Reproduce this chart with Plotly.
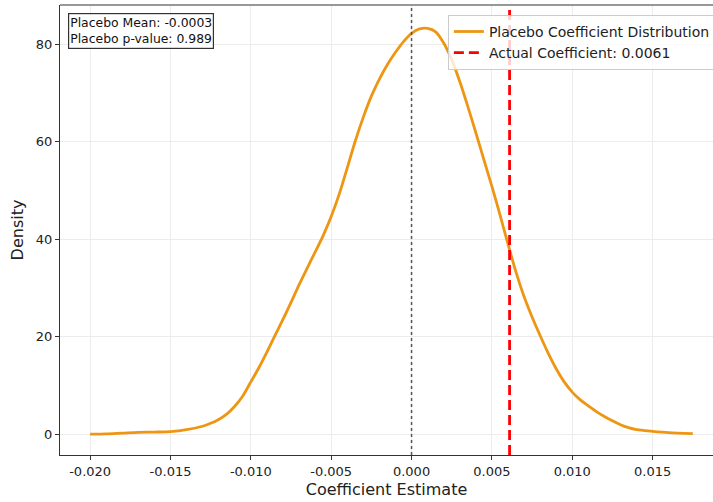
import plotly.graph_objects as go

coef_x = [-0.0200, -0.0190, -0.0180, -0.0170, -0.0160, -0.0150, -0.0140, -0.0130, -0.0125,
          -0.0120, -0.0115, -0.0110, -0.0105, -0.0100, -0.0095, -0.0090, -0.0085, -0.0080,
          -0.0075, -0.0070, -0.0065, -0.0060, -0.0055, -0.0050, -0.0045, -0.0040, -0.0035,
          -0.0030, -0.0025, -0.0020, -0.0015, -0.0010, -0.0005, 0.0000, 0.0005, 0.0010,
          0.0015, 0.0020, 0.0025, 0.0030, 0.0035, 0.0040, 0.0045, 0.0050, 0.0055,
          0.0060, 0.0065, 0.0070, 0.0075, 0.0080, 0.0085, 0.0090, 0.0095, 0.0100,
          0.0105, 0.0110, 0.0115, 0.0120, 0.0125, 0.0130, 0.0135, 0.0140, 0.0145,
          0.0150, 0.0160, 0.0175]
density = [0.0, 0.05, 0.2, 0.35, 0.4, 0.5, 0.9, 1.6, 2.2,
           3.0, 4.1, 5.7, 7.8, 10.7, 13.6, 16.8, 20.2, 23.5,
           27.0, 30.6, 34.0, 37.3, 40.7, 44.6, 49.2, 54.6, 60.1,
           65.0, 69.3, 72.8, 75.8, 78.3, 80.5, 82.2, 83.1, 83.2,
           82.5, 80.2, 76.8, 72.3, 67.2, 61.8, 56.3, 50.8, 45.0,
           39.0, 33.2, 28.2, 24.0, 20.2, 16.6, 13.4, 10.7, 8.6,
           7.0, 5.8, 4.6, 3.6, 2.7, 1.9, 1.3, 0.9, 0.7,
           0.55, 0.3, 0.1]
actual_coef = 0.0061
placebo_mean = -0.0003
placebo_p = 0.989
x_ticks = [-0.020, -0.015, -0.010, -0.005, 0.000, 0.005, 0.010, 0.015]
x_tick_labels = ["-0.020", "-0.015", "-0.010", "-0.005", "0.000", "0.005", "0.010", "0.015"]
y_ticks = [0, 20, 40, 60, 80]

fig = go.Figure()
fig.add_trace(go.Scatter(x=coef_x, y=density, mode="lines",
                         line=dict(color="#EE9614", width=2.8, shape="spline", smoothing=0.8),
                         name="Placebo Coefficient Distribution"))
fig.add_trace(go.Scatter(x=[actual_coef, actual_coef], y=[-4.3, 88.0], mode="lines",
                         line=dict(color="#FF0000", width=2.8, dash="10px,5px"),
                         name=f"Actual Coefficient: {actual_coef:.4f}"))
fig.add_shape(type="line", x0=0, x1=0, y0=0, y1=1, xref="x", yref="paper",
              line=dict(color="#555555", width=1.5, dash="dot"))
# top spine
fig.add_shape(type="line", x0=0, x1=1, y0=1, y1=1, xref="paper", yref="paper",
              line=dict(color="#333", width=1.2))

fig.add_annotation(xref="paper", yref="paper", x=0.012, y=0.983, xanchor="left", yanchor="top",
                   text=f"Placebo Mean: {placebo_mean:.4f}<br>Placebo p-value: {placebo_p:.3f}",
                   showarrow=False, align="left", font=dict(family="DejaVu Sans", size=12.4, color="#111"),
                   bgcolor="rgba(255,255,255,0.9)", bordercolor="#333", borderwidth=1.2, borderpad=1)

fig.update_layout(
    width=713, height=502,
    margin=dict(l=60, r=0, t=5, b=47, autoexpand=False),
    plot_bgcolor="white", paper_bgcolor="white",
    font=dict(family="DejaVu Sans", size=13, color="#222"),
    showlegend=True,
    legend=dict(x=0.594, y=0.978, xanchor="left", yanchor="top",
                bgcolor="rgba(255,255,255,0.8)", bordercolor="#cccccc", borderwidth=1,
                font=dict(family="DejaVu Sans", size=14, color="#222"), itemwidth=30,
                tracegroupgap=2),
    xaxis=dict(range=[-0.021875, 0.018758], tickvals=x_ticks, ticktext=x_tick_labels,
               showgrid=True, gridcolor="#ececec", gridwidth=1, zeroline=False,
               showline=True, linecolor="#333", linewidth=1.2, mirror=False,
               ticks="outside", ticklen=4, tickcolor="#333",
               title=dict(text="Coefficient Estimate", standoff=6)),
    yaxis=dict(range=[-4.3, 88.0], tickvals=y_ticks,
               showgrid=True, gridcolor="#ececec", gridwidth=1, zeroline=False,
               showline=True, linecolor="#333", linewidth=1.2, mirror=False,
               ticks="outside", ticklen=4, tickcolor="#333",
               title=dict(text="Density", standoff=8)),
)
fig.write_html("out.html")
